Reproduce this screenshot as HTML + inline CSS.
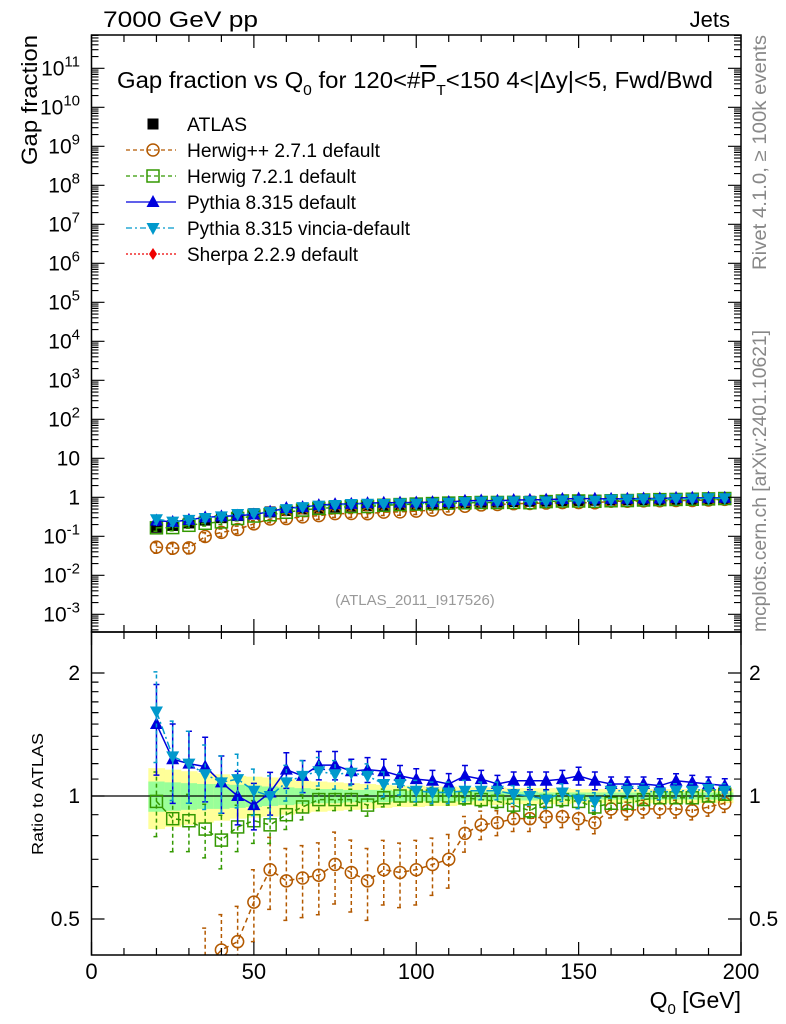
<!DOCTYPE html>
<html><head><meta charset="utf-8"><style>
html,body{margin:0;background:#fff;overflow:hidden;width:786px;height:1024px;}
svg{display:block;font-family:"Liberation Sans",Arial,sans-serif;}
</style></head><body>
<svg id="chart" width="786" height="1024" viewBox="0 0 786 1024" xmlns="http://www.w3.org/2000/svg">
<text x="103" y="27" font-size="22" textLength="155" lengthAdjust="spacingAndGlyphs">7000 GeV pp</text>
<text x="730" y="27" font-size="22" text-anchor="end">Jets</text>
<text transform="translate(37,35) rotate(-90)" font-size="22" text-anchor="end" textLength="130" lengthAdjust="spacingAndGlyphs">Gap fraction</text>
<text transform="translate(43,855) rotate(-90)" font-size="16" textLength="122" lengthAdjust="spacingAndGlyphs">Ratio to ATLAS</text>
<text x="741" y="1008" font-size="23" text-anchor="end">Q<tspan font-size="15" dy="6">0</tspan><tspan dy="-6"> [GeV]</tspan></text>
<text transform="translate(766,270) rotate(-90)" font-size="19" fill="#888" textLength="235" lengthAdjust="spacingAndGlyphs">Rivet 4.1.0, ≥ 100k events</text>
<text transform="translate(766,632) rotate(-90)" font-size="19" fill="#888" textLength="302" lengthAdjust="spacingAndGlyphs">mcplots.cern.ch [arXiv:2401.10621]</text>
<text x="415" y="605" font-size="15" fill="#999" text-anchor="middle">(ATLAS_2011_I917526)</text>
<text x="117" y="88" font-size="23" textLength="596" lengthAdjust="spacingAndGlyphs">Gap fraction vs Q<tspan font-size="15" dy="7">0</tspan><tspan dy="-7"> for 120&lt;#</tspan><tspan text-decoration="overline">P</tspan><tspan font-size="15" dy="7">T</tspan><tspan dy="-7">&lt;150  4&lt;|Δy|&lt;5, Fwd/Bwd</tspan></text>
<g id="g"></g>
</svg>
<script>
const qvals=[20,25,30,35,40,45,50,55,60,65,70,75,80,85,90,95,100,105,110,115,120,125,130,135,140,145,150,155,160,165,170,175,180,185,190,195];
const atlasVals=[0.17,0.19,0.22,0.26,0.30,0.34,0.38,0.42,0.46,0.50,0.53,0.56,0.59,0.61,0.63,0.65,0.67,0.69,0.71,0.73,0.75,0.76,0.78,0.79,0.80,0.82,0.83,0.84,0.85,0.86,0.87,0.88,0.89,0.90,0.91,0.92];
const statErr=[0.085,0.08,0.075,0.07,0.07,0.065,0.06,0.055,0.05,0.045,0.04,0.04,0.035,0.035,0.035,0.03,0.03,0.03,0.03,0.03,0.025,0.025,0.025,0.025,0.02,0.02,0.02,0.02,0.02,0.02,0.02,0.02,0.02,0.02,0.02,0.02];
const totErr=[0.17,0.16,0.15,0.14,0.13,0.12,0.115,0.11,0.1,0.09,0.085,0.08,0.075,0.07,0.065,0.06,0.06,0.055,0.055,0.05,0.05,0.05,0.045,0.045,0.045,0.045,0.04,0.04,0.04,0.04,0.04,0.04,0.04,0.04,0.04,0.04];
const herwigppRatio=[0.31,0.26,0.23,0.38,0.42,0.44,0.55,0.66,0.62,0.63,0.64,0.68,0.65,0.62,0.66,0.65,0.66,0.68,0.70,0.81,0.85,0.86,0.88,0.88,0.89,0.89,0.88,0.86,0.93,0.92,0.93,0.93,0.93,0.92,0.94,0.96];
const herwig7Ratio=[0.97,0.88,0.87,0.83,0.78,0.84,0.87,0.85,0.90,0.94,0.98,0.98,0.98,0.95,0.99,1.0,1.0,1.0,1.0,0.99,0.98,0.97,0.95,0.92,0.97,0.98,0.97,0.94,0.96,0.96,0.98,0.99,0.99,0.99,1.0,1.01];
const pythiaRatio=[1.5,1.23,1.2,1.18,1.08,1.0,0.95,1.02,1.16,1.12,1.19,1.19,1.15,1.16,1.15,1.12,1.10,1.09,1.07,1.12,1.10,1.07,1.09,1.09,1.09,1.10,1.12,1.09,1.07,1.07,1.07,1.06,1.09,1.08,1.07,1.06];
const vinciaRatio=[1.61,1.25,1.2,1.13,1.08,1.10,1.03,1.0,1.08,1.12,1.15,1.13,1.14,1.12,1.07,1.07,1.03,1.02,1.02,1.03,1.03,1.03,1.01,1.0,0.98,1.02,0.98,0.97,1.03,1.03,1.03,1.02,1.03,1.03,1.04,1.03];
const herwigppErr=[0.3,0.3,0.3,0.25,0.22,0.22,0.2,0.2,0.2,0.2,0.2,0.2,0.2,0.2,0.18,0.18,0.18,0.16,0.15,0.1,0.08,0.07,0.07,0.07,0.06,0.06,0.06,0.06,0.05,0.05,0.05,0.05,0.05,0.05,0.05,0.05];
const herwig7Err=[0.18,0.17,0.16,0.15,0.15,0.13,0.12,0.1,0.08,0.07,0.06,0.06,0.06,0.06,0.05,0.05,0.05,0.05,0.05,0.04,0.04,0.04,0.04,0.04,0.04,0.04,0.04,0.04,0.03,0.03,0.03,0.03,0.03,0.03,0.03,0.03];
const pythiaErr=[0.25,0.22,0.2,0.18,0.16,0.15,0.13,0.12,0.1,0.09,0.08,0.08,0.07,0.07,0.07,0.06,0.06,0.06,0.06,0.06,0.05,0.05,0.05,0.05,0.05,0.05,0.05,0.05,0.04,0.04,0.04,0.04,0.04,0.04,0.04,0.04];
const mainTicks=[-3,-2,-1,0,1,2,3,4,5,6,7,8,9,10,11];
const ratioTickLabels=["0.5","1","2"];
const ratioTickVals=[0.5,1,2];
const xTickVals=[0,50,100,150,200];

const NS='http://www.w3.org/2000/svg';
const g=document.getElementById('g');
const L=91.5,R=741,T=35,MB=632,RB=955;
function X(v){return L+(v/200)*(R-L);}
function Y(v){return 497.3-39*Math.log10(v);}
function YR(v){return 796-123/0.30103*Math.log10(v);}
function el(t,a,p){const e=document.createElementNS(NS,t);for(const k in a)e.setAttribute(k,a[k]);(p||g).appendChild(e);return e;}

const bandG=el('g',{});


qvals.forEach((q,i)=>{
  const x0=X(q-2.5),x1=X(q+2.5);
  const r1=el('rect',{x:x0,y:YR(1+totErr[i]),width:x1-x0+0.5,height:YR(1-totErr[i])-YR(1+totErr[i]),fill:'#ffff99'},bandG);
  
  
  const r2=el('rect',{x:x0,y:YR(1+statErr[i]),width:x1-x0+0.5,height:YR(1-statErr[i])-YR(1+statErr[i]),fill:'#99ff99'},bandG);
  
  
});
const ref=el('line',{x1:L,x2:R,y1:YR(1),y2:YR(1),stroke:'#000','stroke-width':1.3});



const defs=el('defs',{});
const c1=el('clipPath',{id:'cm'},defs);el('rect',{x:L,y:T,width:R-L,height:MB-T},c1);
const c2=el('clipPath',{id:'cr'},defs);el('rect',{x:L,y:MB,width:R-L,height:RB-MB},c2);

function marker(parent,type,x,y,col){
  let m;
  if(type==='circle')m=el('circle',{cx:x,cy:y,r:6,fill:'none',stroke:col,'stroke-width':1.5},parent);
  else if(type==='osq')m=el('rect',{x:x-6,y:y-6,width:12,height:12,fill:'none',stroke:col,'stroke-width':1.5},parent);
  else if(type==='sq')m=el('rect',{x:x-5.5,y:y-5.5,width:11,height:11,fill:col},parent);
  else if(type==='up')m=el('polygon',{points:`${x},${y-7} ${x-6.5},${y+5} ${x+6.5},${y+5}`,fill:col},parent);
  else if(type==='down')m=el('polygon',{points:`${x},${y+7} ${x-6.5},${y-5} ${x+6.5},${y-5}`,fill:col},parent);
  else if(type==='diamond')m=el('polygon',{points:`${x},${y-6} ${x-4},${y} ${x},${y+6} ${x+4},${y}`,fill:col},parent);
  
  
}
const series=[
  {name:'herwigpp',ratio:herwigppRatio,err:herwigppErr,col:'#b35900',mk:'circle',dash:'5,4'},
  {name:'herwig7',ratio:herwig7Ratio,err:herwig7Err,col:'#339900',mk:'osq',dash:'5,4'},
  {name:'pythia',ratio:pythiaRatio,err:pythiaErr,col:'#0000dd',mk:'up',dash:''},
  {name:'vincia',ratio:vinciaRatio,err:pythiaErr,col:'#0099cc',mk:'down',dash:'8,3,2,3'},
];
function drawSeries(s,main){
  const grp=el('g',{'clip-path':main?'url(#cm)':'url(#cr)'});
  
  
  const pts=qvals.map((q,i)=>{const r=s.ratio[i];return [X(q),main?Y(r*atlasVals[i]):YR(r)];});
  const ln=el('polyline',{points:pts.map(p=>p.join(',')).join(' '),fill:'none',stroke:s.col,'stroke-width':1.5,'stroke-dasharray':s.dash},grp);
  
  
  qvals.forEach((q,i)=>{
    const r=s.ratio[i],e=s.err[i];
    const lo=main?Y(r*atlasVals[i]*(1-e)):YR(r*(1-e)),hi=main?Y(r*atlasVals[i]*(1+e)):YR(r*(1+e));
    const x=pts[i][0];
    const b=el('path',{d:`M${x},${lo}V${hi}M${x-3},${lo}H${x+3}M${x-3},${hi}H${x+3}`,stroke:s.col,'stroke-width':1.5,fill:'none','stroke-dasharray':s.dash?'4,3':''},grp);
    
    
    marker(grp,s.mk,x,pts[i][1],s.col);
  });
}
const ag=el('g',{});


qvals.forEach((q,i)=>marker(ag,'sq',X(q),Y(atlasVals[i]),'#000'));
series.forEach(s=>drawSeries(s,true));
series.forEach(s=>drawSeries(s,false));

const f1=el('rect',{x:L,y:T,width:R-L,height:MB-T,fill:'none',stroke:'#000','stroke-width':1.5});


const f2=el('rect',{x:L,y:MB,width:R-L,height:RB-MB,fill:'none',stroke:'#000','stroke-width':1.5});



let d='';
for(let v=0;v<=200;v+=10){const x=X(v),len=v%50===0?13:7;
  d+=`M${x},${T}v${len}M${x},${MB}v${-len}M${x},${MB}v${len}M${x},${RB}v${-len}`;}
for(let k=-4;k<=11;k++){for(let m=1;m<10;m++){const v=Math.pow(10,k)*m,y=Y(v);if(y<T||y>MB)continue;const len=m===1?13:7;
  d+=`M${L},${y}h${len}M${R},${y}h${-len}`;}}
[0.5,0.6,0.7,0.8,0.9,1,1.1,1.2,1.3,1.4,1.5,1.6,1.7,1.8,1.9,2].forEach(v=>{const y=YR(v);const len=(v===0.5||v===1||v===2)?13:7;
  d+=`M${L},${y}h${len}M${R},${y}h${-len}`;});
const tk=el('path',{d:d,stroke:'#000','stroke-width':1.2,fill:'none'});



mainTicks.forEach(k=>{
  const t=el('text',{x:80,y:Y(Math.pow(10,k))+7,'font-size':21,'text-anchor':'end'});
  
  
  if(k===0)t.textContent='1';else if(k===1)t.textContent='10';
  else{t.textContent='10';const s=el('tspan',{'font-size':15,dy:-9},t);s.textContent=String(k);}
});
ratioTickVals.forEach((v,i)=>{
  const t=el('text',{x:80,y:YR(v)+7,'font-size':21,'text-anchor':'end'});
  t.textContent=ratioTickLabels[i];
  
  
  const t2=el('text',{x:749,y:YR(v)+7,'font-size':21});
  t2.textContent=ratioTickLabels[i];
  
  
});
xTickVals.forEach(v=>{
  const t=el('text',{x:X(v),y:979,'font-size':22,'text-anchor':'middle'});
  t.textContent=String(v);
  
  
});

const leg=[
  {label:'ATLAS',mk:'sq',col:'#000',dash:null,w:60},
  {label:'Herwig++ 2.7.1 default',mk:'circle',col:'#b35900',dash:'4,3',w:193},
  {label:'Herwig 7.2.1 default',mk:'osq',col:'#339900',dash:'4,3',w:169},
  {label:'Pythia 8.315 default',mk:'up',col:'#0000dd',dash:'',w:169},
  {label:'Pythia 8.315 vincia-default',mk:'down',col:'#0099cc',dash:'6,3,2,3',w:223},
  {label:'Sherpa 2.2.9 default',mk:'diamond',col:'#ee0000',dash:'2,2',w:171},
];
leg.forEach((e,i)=>{
  const y=124+i*26;
  const lg=el('g',{});
  
  
  if(e.dash!==null){const l=el('line',{x1:126,x2:176,y1:y,y2:y,stroke:e.col,'stroke-width':1.3,'stroke-dasharray':e.dash},lg);
    }
  marker(lg,e.mk,153,y,e.col);
  const t=el('text',{x:187,y:y+7,'font-size':19,textLength:e.w,lengthAdjust:'spacingAndGlyphs'},lg);
  t.textContent=e.label;
  
  
});
</script>
</body></html>
